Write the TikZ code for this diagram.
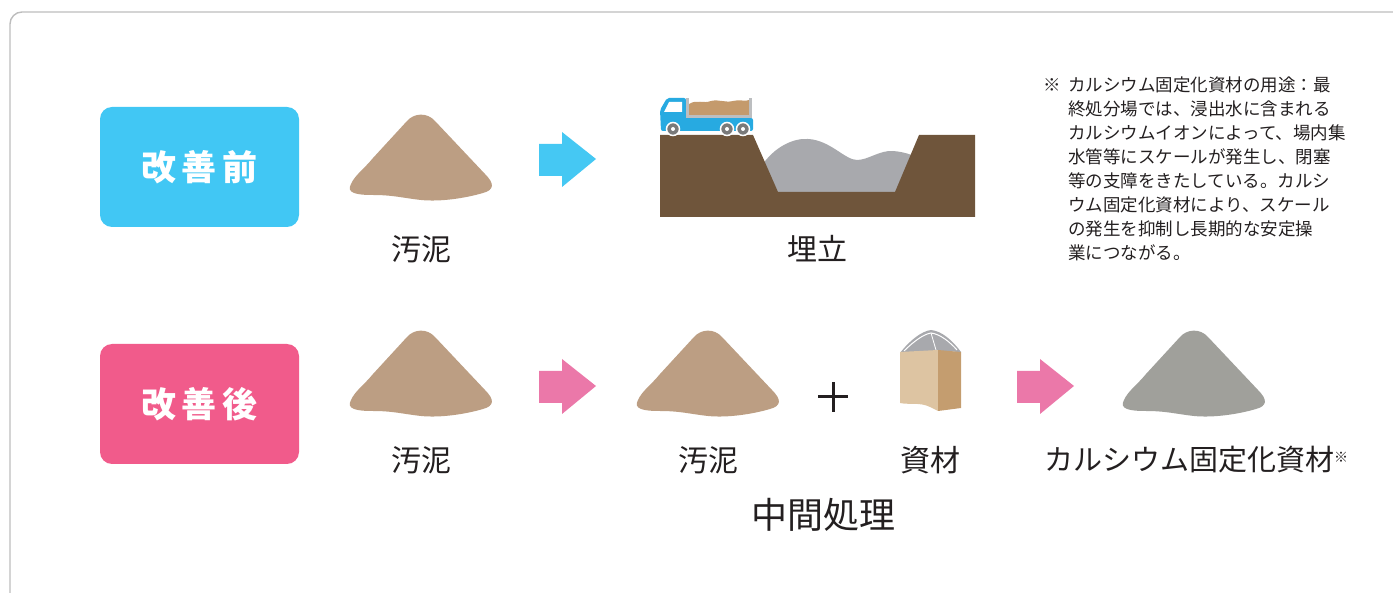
\documentclass[tikz,border=0pt]{standalone}
\usepackage{fontspec}
\newfontfamily\jp{Noto Sans CJK JP}
\definecolor{ink}{HTML}{231F20}
\definecolor{skyblue}{HTML}{41C7F4}
\definecolor{rose}{HTML}{F15B8B}
\definecolor{skyarrow}{HTML}{45C8F3}
\definecolor{rosearrow}{HTML}{EB78A9}
\definecolor{sand}{HTML}{BC9E83}
\definecolor{ashpile}{HTML}{A0A09B}
\definecolor{dirt}{HTML}{6F553B}
\definecolor{ash}{HTML}{A8A9AD}
\definecolor{truckblue}{HTML}{27AAE1}
\definecolor{load}{HTML}{C49A6C}
\definecolor{bedgray}{HTML}{BCBEC0}
\definecolor{wheel}{HTML}{7A7A7A}
\definecolor{bagfront}{HTML}{DDC4A2}
\definecolor{bagside}{HTML}{C49D6F}
\definecolor{frame}{HTML}{BDBDBD}
\tikzset{
  lbl/.style={font=\jp\fontsize{30}{30}\selectfont, text=ink, inner sep=0pt},
  tagbox/.style={rounded corners=12pt, minimum width=199pt, minimum height=120pt,
    inner sep=0pt, font=\jp\bfseries\fontsize{35}{35}\selectfont, text=white},
  pile/.pic={
    \fill[pic actions] (-70,70) .. controls (-66,61) and (-57,55) .. (-48,44)
      -- (-14,7) .. controls (-7,-1) and (6,-2) .. (14,7)
      -- (64,60) .. controls (74,70) and (73,76) .. (62,79)
      .. controls (45,84) and (20,88) .. (0,86)
      .. controls (-18,84) and (-28,81) .. (-48,81)
      .. controls (-65,81) and (-75,79) .. (-70,70) -- cycle;
  },
  fatarrow/.pic={
    \fill[pic actions] (0,-15) -- (23,-15) -- (23,-27) -- (57,0) -- (23,28)
      -- (23,17) -- (0,17) -- cycle;
  },
}
\begin{document}
\begin{tikzpicture}[x=1pt,y=-1pt]
\useasboundingbox (0,0) rectangle (1393,593);
% outer panel
\draw[frame, line width=1.4pt, rounded corners=12pt] (10,12) rectangle (1420,605);

% row labels
\node[tagbox, fill=skyblue] (before) at (199.5,167) {改\,善\,前};
\node[tagbox, fill=rose] (after) at (199.5,404) {改\,善\,後};

% ---- before ----
\pic[fill=sand] at (421,114) {pile};
\node[lbl] (sludgeA) at (421,249) {汚泥};
\pic[fill=skyarrow] at (539,159) {fatarrow};

% landfill pit with ash inside
\fill[ash] (760,168) .. controls (775,145) and (795,138) .. (808,139)
  .. controls (830,140) and (845,160) .. (857,160)
  .. controls (868,160) and (880,150) .. (893,151)
  .. controls (905,152) and (912,155) .. (916,157) -- (900,195) -- (770,195) -- cycle;
\fill[dirt] (660,135) -- (753,135) -- (778,192) -- (895,192) -- (919,135)
  -- (975,135) -- (975,217) -- (660,217) -- cycle;

% dump truck
\fill[truckblue, rounded corners=2pt] (661,131) -- (660,110) -- (667,98) -- (686,98)
  -- (686,118) -- (753,118) -- (753,131) -- cycle;
\fill[white] (669,102) -- (682,102) -- (682,112) -- (664,112) -- cycle;
\fill[load] (689,104) .. controls (697,99) and (703,104) .. (711,101)
  .. controls (719,99) and (725,103) .. (733,101)
  .. controls (740,99) and (745,102) .. (749,100) -- (749,116) -- (689,116) -- cycle;
\fill[bedgray] (686,98) rectangle (689,118);
\fill[bedgray] (749,98) rectangle (752,118);
\fill[bedgray] (686,115) rectangle (752,118);
\foreach \wx in {673,727,743}{
  \fill[wheel, draw=white, line width=1.5pt] (\wx,129) circle (6.5);
  \fill[white] (\wx,129) circle (2);
}
\node[lbl] (landfill) at (817,249) {埋立};

% footnote
\node[anchor=north west, inner sep=0pt, align=left, text=ink,
  font=\jp\fontsize{17.5}{24}\selectfont] (note) at (1043,77)
  {\makebox[25pt][l]{※}カルシウム固定化資材の用途：最\\
   \hspace*{25pt}終処分場では、浸出水に含まれる\\
   \hspace*{25pt}カルシウムイオンによって、場内集\\
   \hspace*{25pt}水管等にスケールが発生し、閉塞\\
   \hspace*{25pt}等の支障をきたしている。カルシ\\
   \hspace*{25pt}ウム固定化資材により、スケール\\
   \hspace*{25pt}の発生を抑制し長期的な安定操\\
   \hspace*{25pt}業につながる。};

% ---- after ----
\pic[fill=sand] at (421,330) {pile};
\node[lbl] (sludgeB) at (421,460) {汚泥};
\pic[fill=rosearrow] at (539,386) {fatarrow};
\pic[fill=sand] at (708,330) {pile};
\node[lbl] (sludgeC) at (708,460) {汚泥};

% plus sign
\coordinate (plusc) at (833,397);
\draw[ink, line width=3pt] ([xshift=-15pt]plusc) -- ([xshift=15pt]plusc);
\draw[ink, line width=3pt] ([yshift=-15pt]plusc) -- ([yshift=15pt]plusc);

% bulk bag of additive
\fill[ash] (900,353) .. controls (910,340) and (922,331) .. (931,330)
  .. controls (942,331) and (953,341) .. (961,352) -- (938,351) -- cycle;
\draw[white, line width=1pt] (904,351) .. controls (914,341) and (924,334) .. (931,333)
  .. controls (940,334) and (950,342) .. (957,350);
\draw[white, line width=0.8pt] (931,333) -- (936,350);
\fill[bagfront] (900,352) -- (938,350) -- (938,411) -- (930,407)
  .. controls (920,402) and (910,405) .. (900,403) -- cycle;
\fill[bagside] (938,350) -- (961,352) -- (961,408) -- (938,411) -- cycle;
\node[lbl] (additive) at (930,460) {資材};

\pic[fill=rosearrow] at (1017,386) {fatarrow};
\pic[fill=ashpile] at (1194,330) {pile};
\node[lbl, anchor=west, font=\jp\fontsize{29}{29}\selectfont] (product) at (1044,460)
  {カルシウム固定化資材\raisebox{8pt}{\fontsize{14}{14}\selectfont ※}};

\node[font=\jp\fontsize{36}{36}\selectfont, text=ink, inner sep=0pt]
  (midproc) at (823,515) {中間処理};
\end{tikzpicture}
\end{document}
